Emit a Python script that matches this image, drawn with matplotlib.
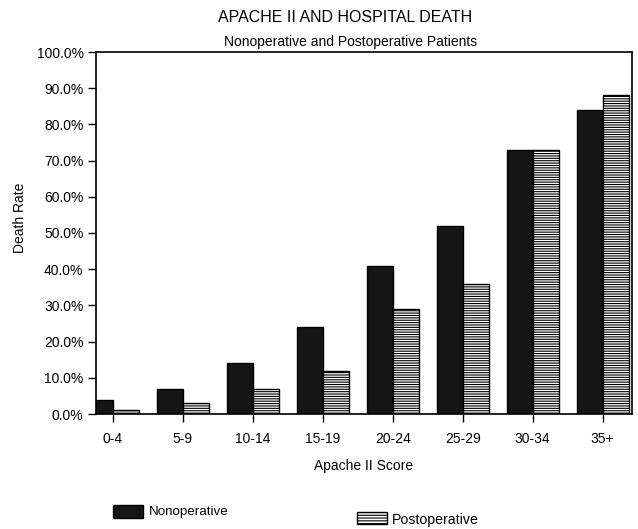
import matplotlib
matplotlib.use("Agg")
import matplotlib.pyplot as plt
from matplotlib.patches import Rectangle
import numpy as np

categories = ["0-4", "5-9", "10-14", "15-19", "20-24", "25-29", "30-34", "35+"]
nonoperative = [4, 7, 14, 24, 41, 52, 73, 84]
postoperative = [1, 3, 7, 12, 29, 36, 73, 88]
yticks = [0, 10, 20, 30, 40, 50, 60, 70, 80, 90, 100]

plt.rcParams['font.family'] = ['Liberation Sans', 'DejaVu Sans']
plt.rcParams['hatch.linewidth'] = 0.8

W, H = 638, 529
fig = plt.figure(figsize=(W / 100, H / 100), dpi=100)
ax = fig.add_axes([96 / W, 1 - 414 / H, (632 - 96) / W, (414 - 52) / H])

x = np.arange(len(categories))
bw = 0.37
ax.bar(x - bw / 2, nonoperative, bw, color="#151515", edgecolor="#000000", linewidth=1.0)
ax.bar(x + bw / 2, postoperative, bw, color="white", edgecolor="#000000", linewidth=1.0, hatch="-------")

ax.set_xlim(-0.24, 7.42)
ax.set_ylim(0, 100)
ax.set_yticks(yticks)
ax.set_yticklabels([f"{v:.1f}%" for v in yticks], fontsize=10)
ax.set_xticks(x)
ax.set_xticklabels(categories, fontsize=10)
ax.tick_params(axis='both', direction='out', length=6, width=1.0, color="#000000", pad=3)
ax.tick_params(axis='x', pad=7)
for s in ax.spines.values():
    s.set_linewidth(1.2)
    s.set_color("#000000")

ax.set_xlabel("Apache II Score", fontsize=10, labelpad=9)
fig.text(20 / W, 1 - 218 / H, "Death Rate", rotation=90, fontsize=10, ha="center", va="center")

fig.text(345 / W, 1 - 17 / H, "APACHE II AND HOSPITAL DEATH", fontsize=11.5, ha="center", va="center")
fig.text(351 / W, 1 - 42 / H, "Nonoperative and Postoperative Patients", fontsize=10, ha="center", va="center")

# legend
fig.patches.append(Rectangle((113 / W, 1 - 518 / H), 30 / W, 13 / H, transform=fig.transFigure,
                             facecolor="#151515", edgecolor="#000000", linewidth=1.0))
fig.text(149 / W, 1 - 512 / H, "Nonoperative", fontsize=9.6, ha="left", va="center")
fig.patches.append(Rectangle((357 / W, 1 - 524 / H), 30 / W, 12 / H, transform=fig.transFigure,
                             facecolor="white", edgecolor="#000000", linewidth=1.0, hatch="------"))
fig.text(392 / W, 1 - 520 / H, "Postoperative", fontsize=10.2, ha="left", va="center")

fig.savefig("out.png", dpi=100)
